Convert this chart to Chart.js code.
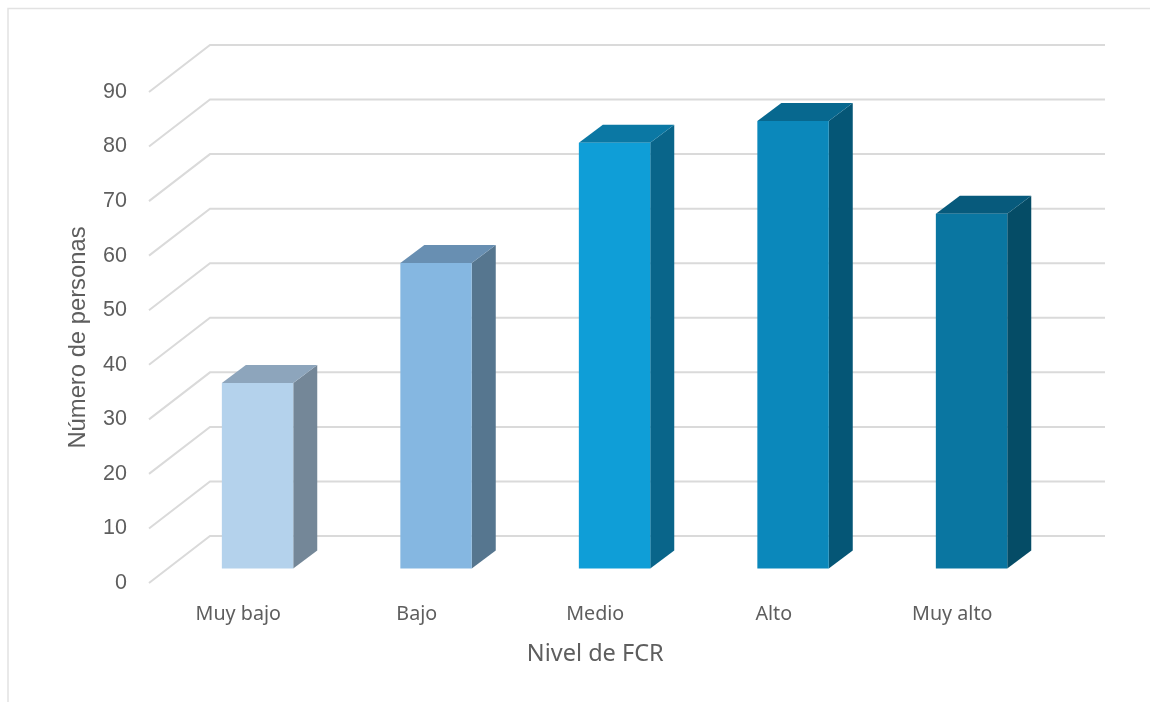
<!DOCTYPE html>
<html lang="es">
<head>
<meta charset="utf-8">
<title>Nivel de FCR</title>
<style>
html,body{margin:0;padding:0;background:#fff;}
#wrap{position:relative;width:1150px;height:702px;}
canvas{display:block;}
</style>
<script src="https://cdn.jsdelivr.net/npm/chart.js@4"></script>
</head>
<body>
<div id="wrap"><canvas id="chart" width="1150" height="702"></canvas></div>
<script>
// Data
const categories = ['Muy bajo', 'Bajo', 'Medio', 'Alto', 'Muy alto'];
const personas = [34, 56, 78, 82, 65];
const yTicks = [0, 10, 20, 30, 40, 50, 60, 70, 80, 90];

// Per-bar face colours
const frontColors = ['#B4D2EC', '#85B7E1', '#0F9ED7', '#0B88BB', '#0A76A1'];
const topColors = ['#8DA5BC', '#688FB2', '#0B78A4', '#07688F', '#075A7C'];
const sideColors = ['#748798', '#56768F', '#09658A', '#055676', '#054C66'];

// Oblique projection of the 3D box: offsets of back wall and of the bar's faces
const wallDepth = { x: 61, y: -47 };
const wallOverhang = 2.5;
const barFront = { x: 19.3, y: -14.6 };
const barDepth = { x: 24, y: -18 };

const gridColor = '#DADADA';
const textColor = '#5E5E5E';
const labelFont = '"Noto Sans", sans-serif';
const numberFont = '"Liberation Sans", Arial, sans-serif';

function poly(ctx, pts, fill) {
  ctx.beginPath();
  pts.forEach((p, i) => i ? ctx.lineTo(p[0], p[1]) : ctx.moveTo(p[0], p[1]));
  ctx.closePath();
  ctx.fillStyle = fill;
  ctx.fill();
}

const box3d = {
  id: 'box3d',
  beforeDraw(chart) {
    // thin frame along the top and left edges of the page
    const { ctx } = chart;
    ctx.save();
    ctx.strokeStyle = '#E2E2E2';
    ctx.lineWidth = 1.5;
    ctx.beginPath();
    ctx.moveTo(8, 702);
    ctx.lineTo(8, 8.5);
    ctx.lineTo(1150, 8.5);
    ctx.stroke();
    ctx.restore();
  },
  beforeDatasetsDraw(chart) {
    // gridlines run across the side wall, then along the back wall
    const { ctx, chartArea, scales } = chart;
    ctx.save();
    ctx.strokeStyle = gridColor;
    ctx.lineWidth = 2;
    yTicks.forEach(t => {
      const y = scales.y.getPixelForValue(t);
      ctx.beginPath();
      ctx.moveTo(chartArea.left, y);
      ctx.lineTo(chartArea.left + wallDepth.x, y + wallDepth.y);
      ctx.lineTo(chartArea.right + wallDepth.x + wallOverhang, y + wallDepth.y);
      ctx.stroke();
    });
    ctx.restore();
  },
  beforeDatasetDraw(chart, args) {
    // replace the flat rectangles with front, top and side faces
    const { ctx } = chart;
    const meta = chart.getDatasetMeta(args.index);
    ctx.save();
    meta.data.forEach((bar, i) => {
      const p = bar.getProps(['x', 'y', 'base', 'width'], true);
      const l = p.x - p.width / 2 + barFront.x;
      const r = p.x + p.width / 2 + barFront.x;
      const t = p.y + barFront.y;
      const b = p.base + barFront.y;
      const dx = barDepth.x, dy = barDepth.y;
      poly(ctx, [[r, t], [r + dx, t + dy], [r + dx, b + dy], [r, b]], sideColors[i]);
      poly(ctx, [[l, t], [l + dx, t + dy], [r + dx, t + dy], [r, t]], topColors[i]);
      poly(ctx, [[l, t], [r, t], [r, b], [l, b]], frontColors[i]);
    });
    ctx.restore();
    return false;
  }
};

new Chart(document.getElementById('chart'), {
  type: 'bar',
  data: {
    labels: categories,
    datasets: [{
      label: 'Número de personas',
      data: personas,
      backgroundColor: frontColors,
      categoryPercentage: 1,
      barPercentage: 0.4
    }]
  },
  plugins: [box3d],
  options: {
    responsive: false,
    animation: false,
    layout: { padding: { top: 92, right: 108.5, bottom: 0, left: 0 } },
    plugins: { legend: { display: false }, tooltip: { enabled: false }, title: { display: false } },
    scales: {
      x: {
        grid: { display: false, drawTicks: false },
        border: { display: false },
        afterFit(scale) { scale.height = 119; },
        ticks: {
          color: textColor,
          padding: 20,
          maxRotation: 0,
          font: { family: labelFont, size: 19.7 }
        },
        title: {
          display: true,
          text: 'Nivel de FCR',
          color: textColor,
          padding: { top: 0, bottom: 34 },
          font: { family: labelFont, size: 23.5 }
        }
      },
      y: {
        min: 0,
        max: 90,
        grid: { display: false, drawTicks: false },
        border: { display: false },
        afterFit(scale) { scale.width = 149; },
        afterBuildTicks(scale) { scale.ticks = yTicks.map(v => ({ value: v })); },
        ticks: {
          color: textColor,
          padding: 22,
          font: { family: numberFont, size: 21.5 }
        },
        title: {
          display: true,
          text: 'Número de personas',
          color: textColor,
          padding: { top: 64, bottom: 0 },
          font: { family: numberFont, size: 23.8 }
        }
      }
    }
  }
});
</script>
</body>
</html>
